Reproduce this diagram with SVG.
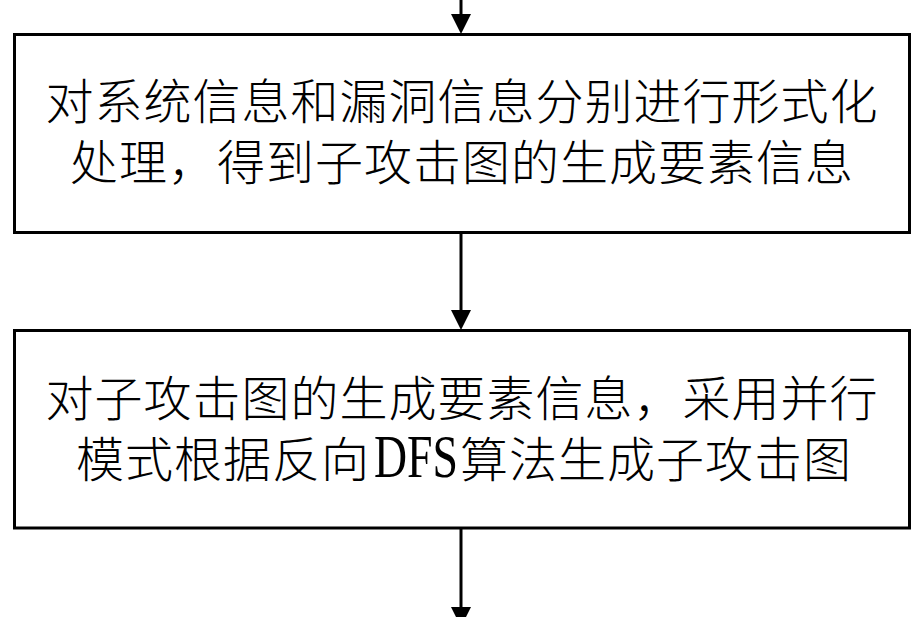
<svg xmlns="http://www.w3.org/2000/svg" width="922" height="617" viewBox="0 0 922 617">
  <style>
    .box { fill: #ffffff; stroke: #000000; stroke-width: 3; }
    .conn { stroke: #000000; stroke-width: 3; fill: none; }
    .label { font-family: "Noto Sans CJK SC", "Liberation Serif", serif; font-size: 48px; font-weight: 300; letter-spacing: 1px; fill: #000000; }
    .mid { text-anchor: middle; }
    .latin { font-family: "Liberation Serif", "Noto Sans CJK SC", serif; font-weight: 400; font-size: 62px; letter-spacing: 0; }
  </style>
  <defs>
    <marker id="arrow" markerUnits="userSpaceOnUse" markerWidth="20" markerHeight="20" refX="0" refY="10" orient="auto" overflow="visible">
      <path d="M0,0 L20,10 L0,20 z" fill="#000000"/>
    </marker>
  </defs>
  <rect width="922" height="617" fill="#ffffff"/>
  <g id="connectors">
    <line class="conn" x1="461" y1="0" x2="461" y2="14" marker-end="url(#arrow)"/>
    <line class="conn" x1="461" y1="233" x2="461" y2="310" marker-end="url(#arrow)"/>
    <line class="conn" x1="461" y1="529" x2="461" y2="607" marker-end="url(#arrow)"/>
  </g>
  <g id="node1">
    <rect class="box" x="14.5" y="34.5" width="895" height="198"/>
    <text class="label mid"><tspan x="462" y="119">对系统信息和漏洞信息分别进行形式化</tspan><tspan x="462" y="180">处理，得到子攻击图的生成要素信息</tspan></text>
  </g>
  <g id="node2">
    <rect class="box" x="14.5" y="330.5" width="895" height="197.5"/>
    <text class="label"><tspan class="mid" x="462" y="416">对子攻击图的生成要素信息，采用并行</tspan><tspan x="76" y="477">模式根据反向</tspan><tspan class="latin" x="374" y="477" textLength="84" lengthAdjust="spacingAndGlyphs">DFS</tspan><tspan x="460" y="477">算法生成子攻击图</tspan></text>
  </g>
</svg>
